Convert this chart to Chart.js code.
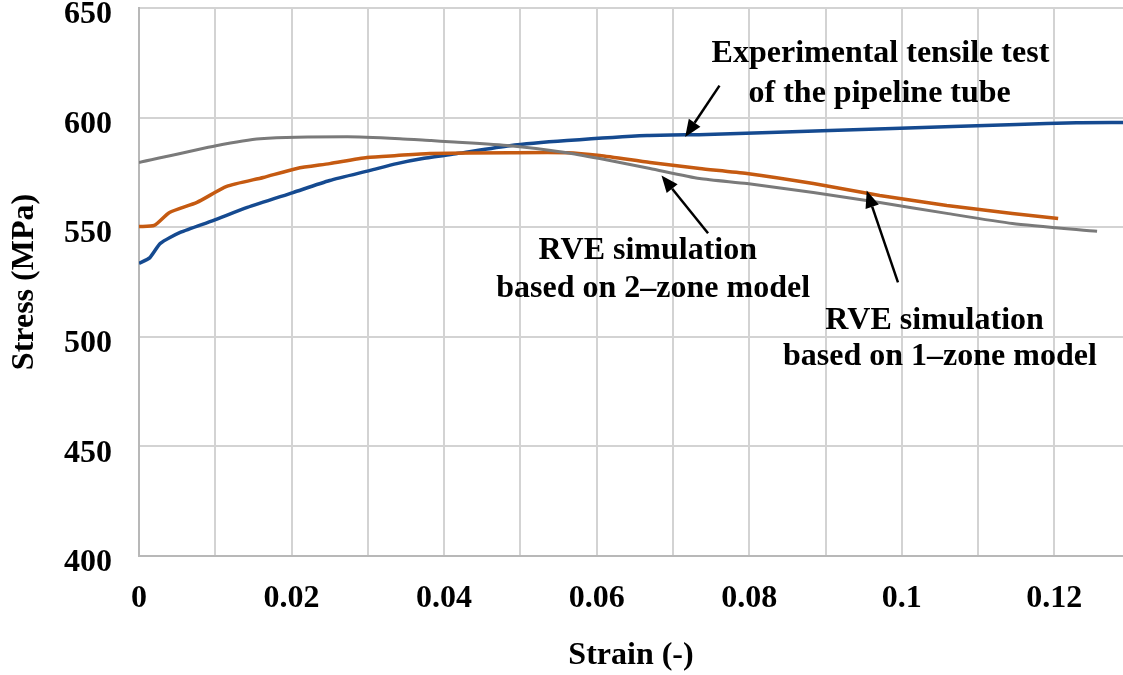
<!DOCTYPE html>
<html>
<head>
<meta charset="utf-8">
<script src="https://cdn.jsdelivr.net/npm/chart.js@4"></script>
<style>
  html, body { margin: 0; padding: 0; background: #fff; }
  #wrap { width: 1123px; height: 675px; position: relative; }
</style>
</head>
<body>
<div id="wrap"><canvas id="stressChart"></canvas></div>
<script>
// values
const expStrain = [0, 0.0014, 0.0028, 0.0054, 0.0097, 0.0142, 0.0202, 0.025, 0.0303, 0.0338, 0.0372, 0.0417, 0.0486, 0.0561, 0.0666, 0.0744, 0.0827, 0.0906, 0.0988, 0.1067, 0.1151, 0.1229, 0.129];
const expStress = [533.5, 536, 542.6, 547.6, 553, 559, 565.8, 571.3, 575.9, 579, 581.3, 583.6, 587.2, 589.5, 591.8, 592.3, 593.2, 594.1, 595, 595.9, 596.8, 597.7, 597.8];

const oneZoneStrain = [0, 0.002, 0.004, 0.0076, 0.0115, 0.0163, 0.0207, 0.025, 0.0299, 0.0338, 0.0381, 0.0486, 0.0561, 0.0604, 0.067, 0.0735, 0.0797, 0.0884, 0.0971, 0.1059, 0.1145, 0.1205];
const oneZoneStress = [550.3, 550.8, 556.7, 561.3, 568.6, 572.7, 576.8, 579, 581.8, 582.7, 583.6, 584, 584, 582.7, 579.5, 576.8, 574.5, 569.9, 564.5, 559.9, 556.3, 554];

const twoZoneStrain = [0, 0.0101, 0.0159, 0.0273, 0.0342, 0.0383, 0.0407, 0.0486, 0.0561, 0.0604, 0.067, 0.0735, 0.0797, 0.0884, 0.0971, 0.1059, 0.1145, 0.1256];
const twoZoneStress = [579.5, 587.2, 590.4, 591.3, 590.4, 589.5, 589, 587.2, 584, 581.3, 576.8, 572.2, 569.9, 565.8, 561.3, 556.3, 551.7, 548.1];

const xTickValues = [0, 0.01, 0.02, 0.03, 0.04, 0.05, 0.06, 0.07, 0.08, 0.09, 0.1, 0.11, 0.12];
const xTickLabels = ["0", "", "0.02", "", "0.04", "", "0.06", "", "0.08", "", "0.1", "", "0.12"];
const yTickValues = [400, 450, 500, 550, 600, 650];

// callouts: text lines centred at data coords, arrow from -> to in data coords
const callouts = [
  { lines: ["Experimental tensile test", "of the pipeline tube"], at: [[0.0972, 629.2], [0.0971, 610.9]], from: [0.0761, 614.6], to: [0.0716, 591.2] },
  { lines: ["RVE simulation", "based on 2\u2013zone model"], at: [[0.0667, 539.4], [0.0674, 522.1]], from: [0.0746, 547.2], to: [0.0685, 573.6] },
  { lines: ["RVE simulation", "based on 1\u2013zone model"], at: [[0.1043, 507.5], [0.105, 490.7]], from: [0.0995, 524.8], to: [0.0954, 566.7] },
];

const FONT = "'Liberation Serif', 'Times New Roman', serif";

function pairs(xs, ys) {
  return xs.map((x, i) => ({ x: x, y: ys[i] }));
}

const calloutPlugin = {
  id: "callouts",
  afterDatasetsDraw(chart) {
    const ctx = chart.ctx;
    const xs = chart.scales.x, ys = chart.scales.y;
    ctx.save();
    ctx.fillStyle = "#000";
    ctx.strokeStyle = "#000";
    ctx.font = "bold 32px " + FONT;
    ctx.textAlign = "center";
    ctx.textBaseline = "middle";
    callouts.forEach(c => {
      c.lines.forEach((t, i) => {
        ctx.fillText(t, xs.getPixelForValue(c.at[i][0]), ys.getPixelForValue(c.at[i][1]));
      });
      const x1 = xs.getPixelForValue(c.from[0]), y1 = ys.getPixelForValue(c.from[1]);
      const x2 = xs.getPixelForValue(c.to[0]), y2 = ys.getPixelForValue(c.to[1]);
      const ang = Math.atan2(y2 - y1, x2 - x1);
      const head = 17, half = 7;
      const bx = x2 - head * Math.cos(ang), by = y2 - head * Math.sin(ang);
      ctx.lineWidth = 2.5;
      ctx.beginPath();
      ctx.moveTo(x1, y1);
      ctx.lineTo(bx, by);
      ctx.stroke();
      ctx.beginPath();
      ctx.moveTo(x2, y2);
      ctx.lineTo(bx + half * Math.sin(ang), by - half * Math.cos(ang));
      ctx.lineTo(bx - half * Math.sin(ang), by + half * Math.cos(ang));
      ctx.closePath();
      ctx.fill();
    });
    ctx.restore();
  },
};

document.addEventListener("DOMContentLoaded", function () {
  const ctx = document.getElementById("stressChart").getContext("2d");
  new Chart(ctx, {
    type: "line",
    data: {
      datasets: [
        {
          label: "RVE simulation based on 2-zone model",
          data: pairs(twoZoneStrain, twoZoneStress),
          borderColor: "#7a7a7a",
          borderWidth: 3,
          pointRadius: 0,
          tension: 0.2,
        },
        {
          label: "RVE simulation based on 1-zone model",
          data: pairs(oneZoneStrain, oneZoneStress),
          borderColor: "#c55a11",
          borderWidth: 3.5,
          pointRadius: 0,
          tension: 0.2,
        },
        {
          label: "Experimental tensile test of the pipeline tube",
          data: pairs(expStrain, expStress),
          borderColor: "#154a90",
          borderWidth: 3.5,
          pointRadius: 0,
          tension: 0.2,
        },
      ],
    },
    options: {
      responsive: true,
      maintainAspectRatio: false,
      animation: false,
      layout: { padding: { top: 8, right: 0, left: 0, bottom: 0 } },
      plugins: {
        legend: { display: false },
        tooltip: { enabled: false },
      },
      scales: {
        x: {
          type: "linear",
          min: 0,
          max: 0.129,
          afterBuildTicks: (axis) => {
            axis.ticks = xTickValues.map(v => ({ value: v }));
          },
          afterFit: (scale) => {
            scale.height = 119;
            scale.paddingLeft = 0;
            scale.paddingRight = 0;
          },
          grid: { color: "#d3d3d3", lineWidth: 2, drawTicks: false },
          border: { display: true, color: "#b8b8b8", width: 2 },
          ticks: {
            autoSkip: false,
            maxRotation: 0,
            padding: 24,
            color: "#000",
            font: { family: FONT, size: 32, weight: "bold" },
            callback: (value, index) => xTickLabels[index],
          },
          title: {
            display: true,
            text: "Strain (-)",
            color: "#000",
            font: { family: FONT, size: 32, weight: "bold" },
            padding: { top: 0, bottom: 0 },
          },
        },
        y: {
          type: "linear",
          min: 400,
          max: 650,
          afterBuildTicks: (axis) => {
            axis.ticks = yTickValues.map(v => ({ value: v }));
          },
          afterFit: (scale) => {
            scale.width = 139;
            scale.paddingTop = 0;
            scale.paddingBottom = 0;
          },
          grid: { color: "#d3d3d3", lineWidth: 2, drawTicks: false },
          border: { display: true, color: "#b8b8b8", width: 2 },
          ticks: {
            padding: 27,
            labelOffset: 7,
            color: "#000",
            font: { family: FONT, size: 32, weight: "bold" },
          },
          title: {
            display: true,
            text: "Stress (MPa)",
            color: "#000",
            font: { family: FONT, size: 32, weight: "bold" },
            padding: { top: 6, bottom: 0 },
          },
        },
      },
    },
    plugins: [calloutPlugin],
  });
});
</script>
</body>
</html>
